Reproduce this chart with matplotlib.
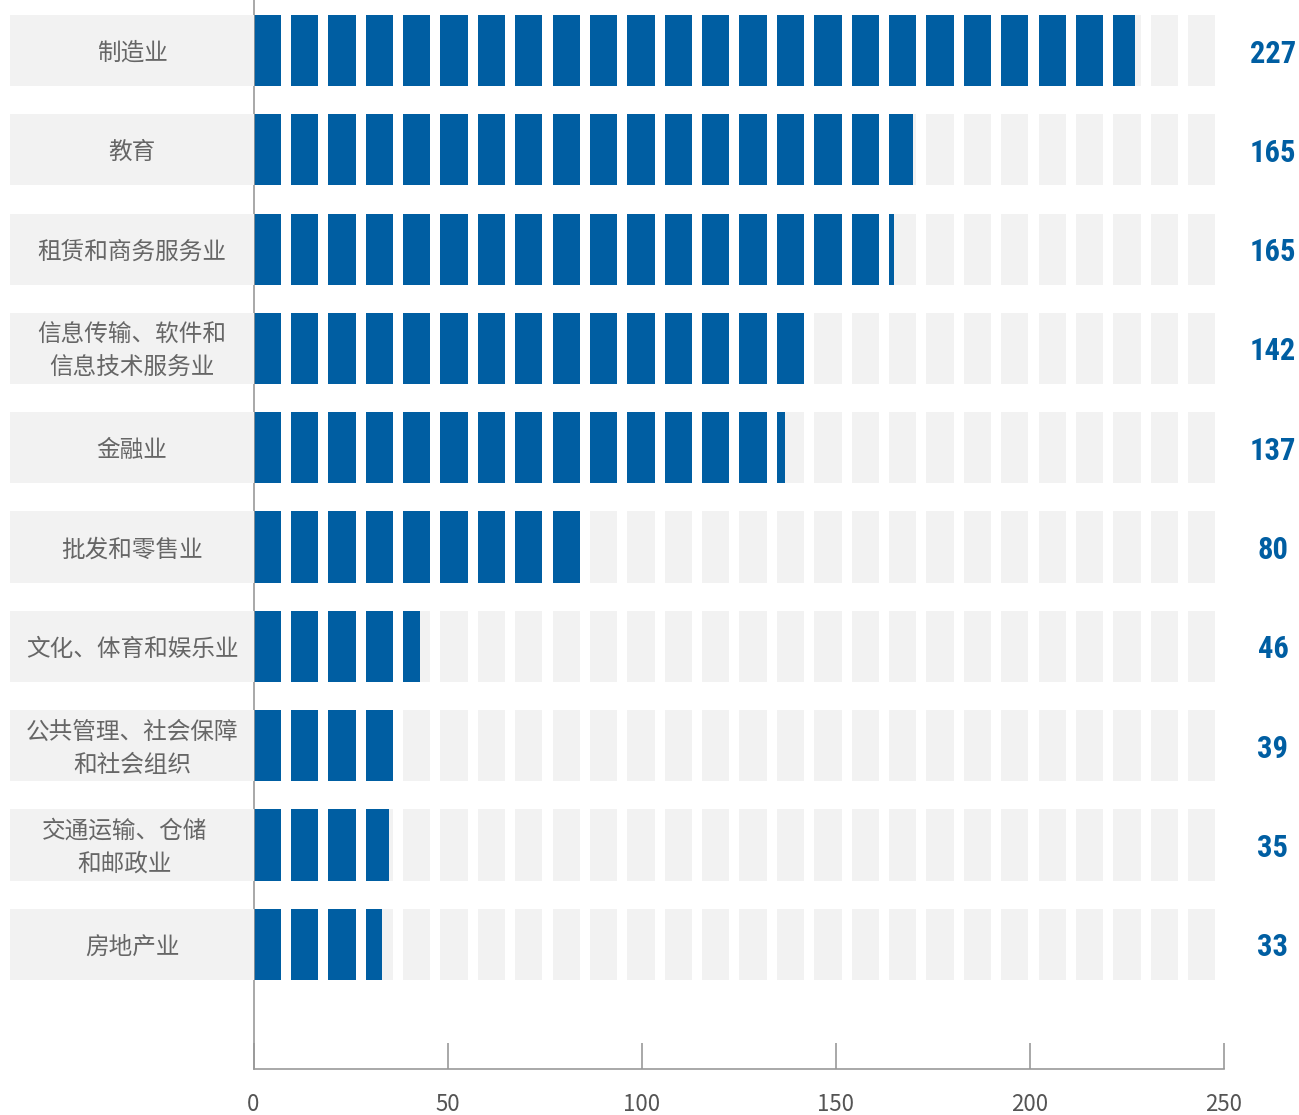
import numpy as np
import matplotlib.pyplot as plt
from matplotlib.transforms import blended_transform_factory
from matplotlib.patches import Rectangle

plt.rcParams['font.family'] = ['Noto Sans CJK SC', 'DejaVu Sans']

# data
categories = ["制造业", "教育", "租赁和商务服务业", "信息传输、软件和\n信息技术服务业", "金融业",
              "批发和零售业", "文化、体育和娱乐业", "公共管理、社会保障\n和社会组织",
              "交通运输、仓储\n和邮政业", "房地产业"]
values = [227, 165, 165, 142, 137, 80, 46, 39, 35, 33]        # printed labels
bar_len = [227, 170, 165, 142, 137, 84, 43, 38, 35, 33]       # where the blue actually stops
xticks = [0, 50, 100, 150, 200, 250]

blue = '#005ea2'
light = '#f2f2f2'
seg_step = 9.63   # one symbol + gap, in axis units
seg_w = 7.03
bar_h = 0.718

W, H = 1299, 1115
fig = plt.figure(figsize=(W / 100, H / 100), dpi=100)
ax = fig.add_axes([253.5 / W, 46 / H, 970.5 / W, 1 - 46 / H])
ax.set_xlim(0, 250)
ax.set_ylim(10.256, -0.509)

starts = np.arange(0, 250, seg_step)
for i, v in enumerate(bar_len):
    # grey pattern first, full width
    for s in starts:
        ax.add_patch(Rectangle((s, i - bar_h / 2), seg_w, bar_h, color=light, lw=0))
    # blue pattern clipped at the bar length
    for s in starts:
        if s >= v:
            break
        ax.add_patch(Rectangle((s, i - bar_h / 2), min(seg_w, v - s), bar_h, color=blue, lw=0))

# label boxes on the left
tr = blended_transform_factory(fig.transFigure, ax.transData)
for i, c in enumerate(categories):
    fig.patches.append(Rectangle((10 / W, i - bar_h / 2), 243.5 / W, bar_h, transform=tr,
                                 color=light, lw=0, zorder=0))
    cx = 125 / W if c.startswith("交通") else 132 / W
    fig.text(cx, i + 0.03, c, transform=tr, ha='center', va='center', fontsize=17,
             color='#666666', linespacing=1.55)
    fig.text(1273 / W, i + 0.03, str(values[i]), transform=tr, ha='center', va='center',
             fontsize=22, fontweight='bold', fontstretch='condensed', color=blue,
             family=['Roboto Condensed', 'Liberation Sans Narrow', 'DejaVu Sans Condensed', 'Roboto'])

for sp in ['top', 'right']:
    ax.spines[sp].set_visible(False)
for sp in ['left', 'bottom']:
    ax.spines[sp].set_color('#999999')
    ax.spines[sp].set_linewidth(1.2)
ax.set_yticks([])
ax.set_xticks(xticks)
ax.tick_params(axis='x', direction='in', length=18.7, width=1.2, color='#999999',
               labelsize=16, labelcolor='#555555', pad=17)

fig.savefig('out.png', dpi=100)
